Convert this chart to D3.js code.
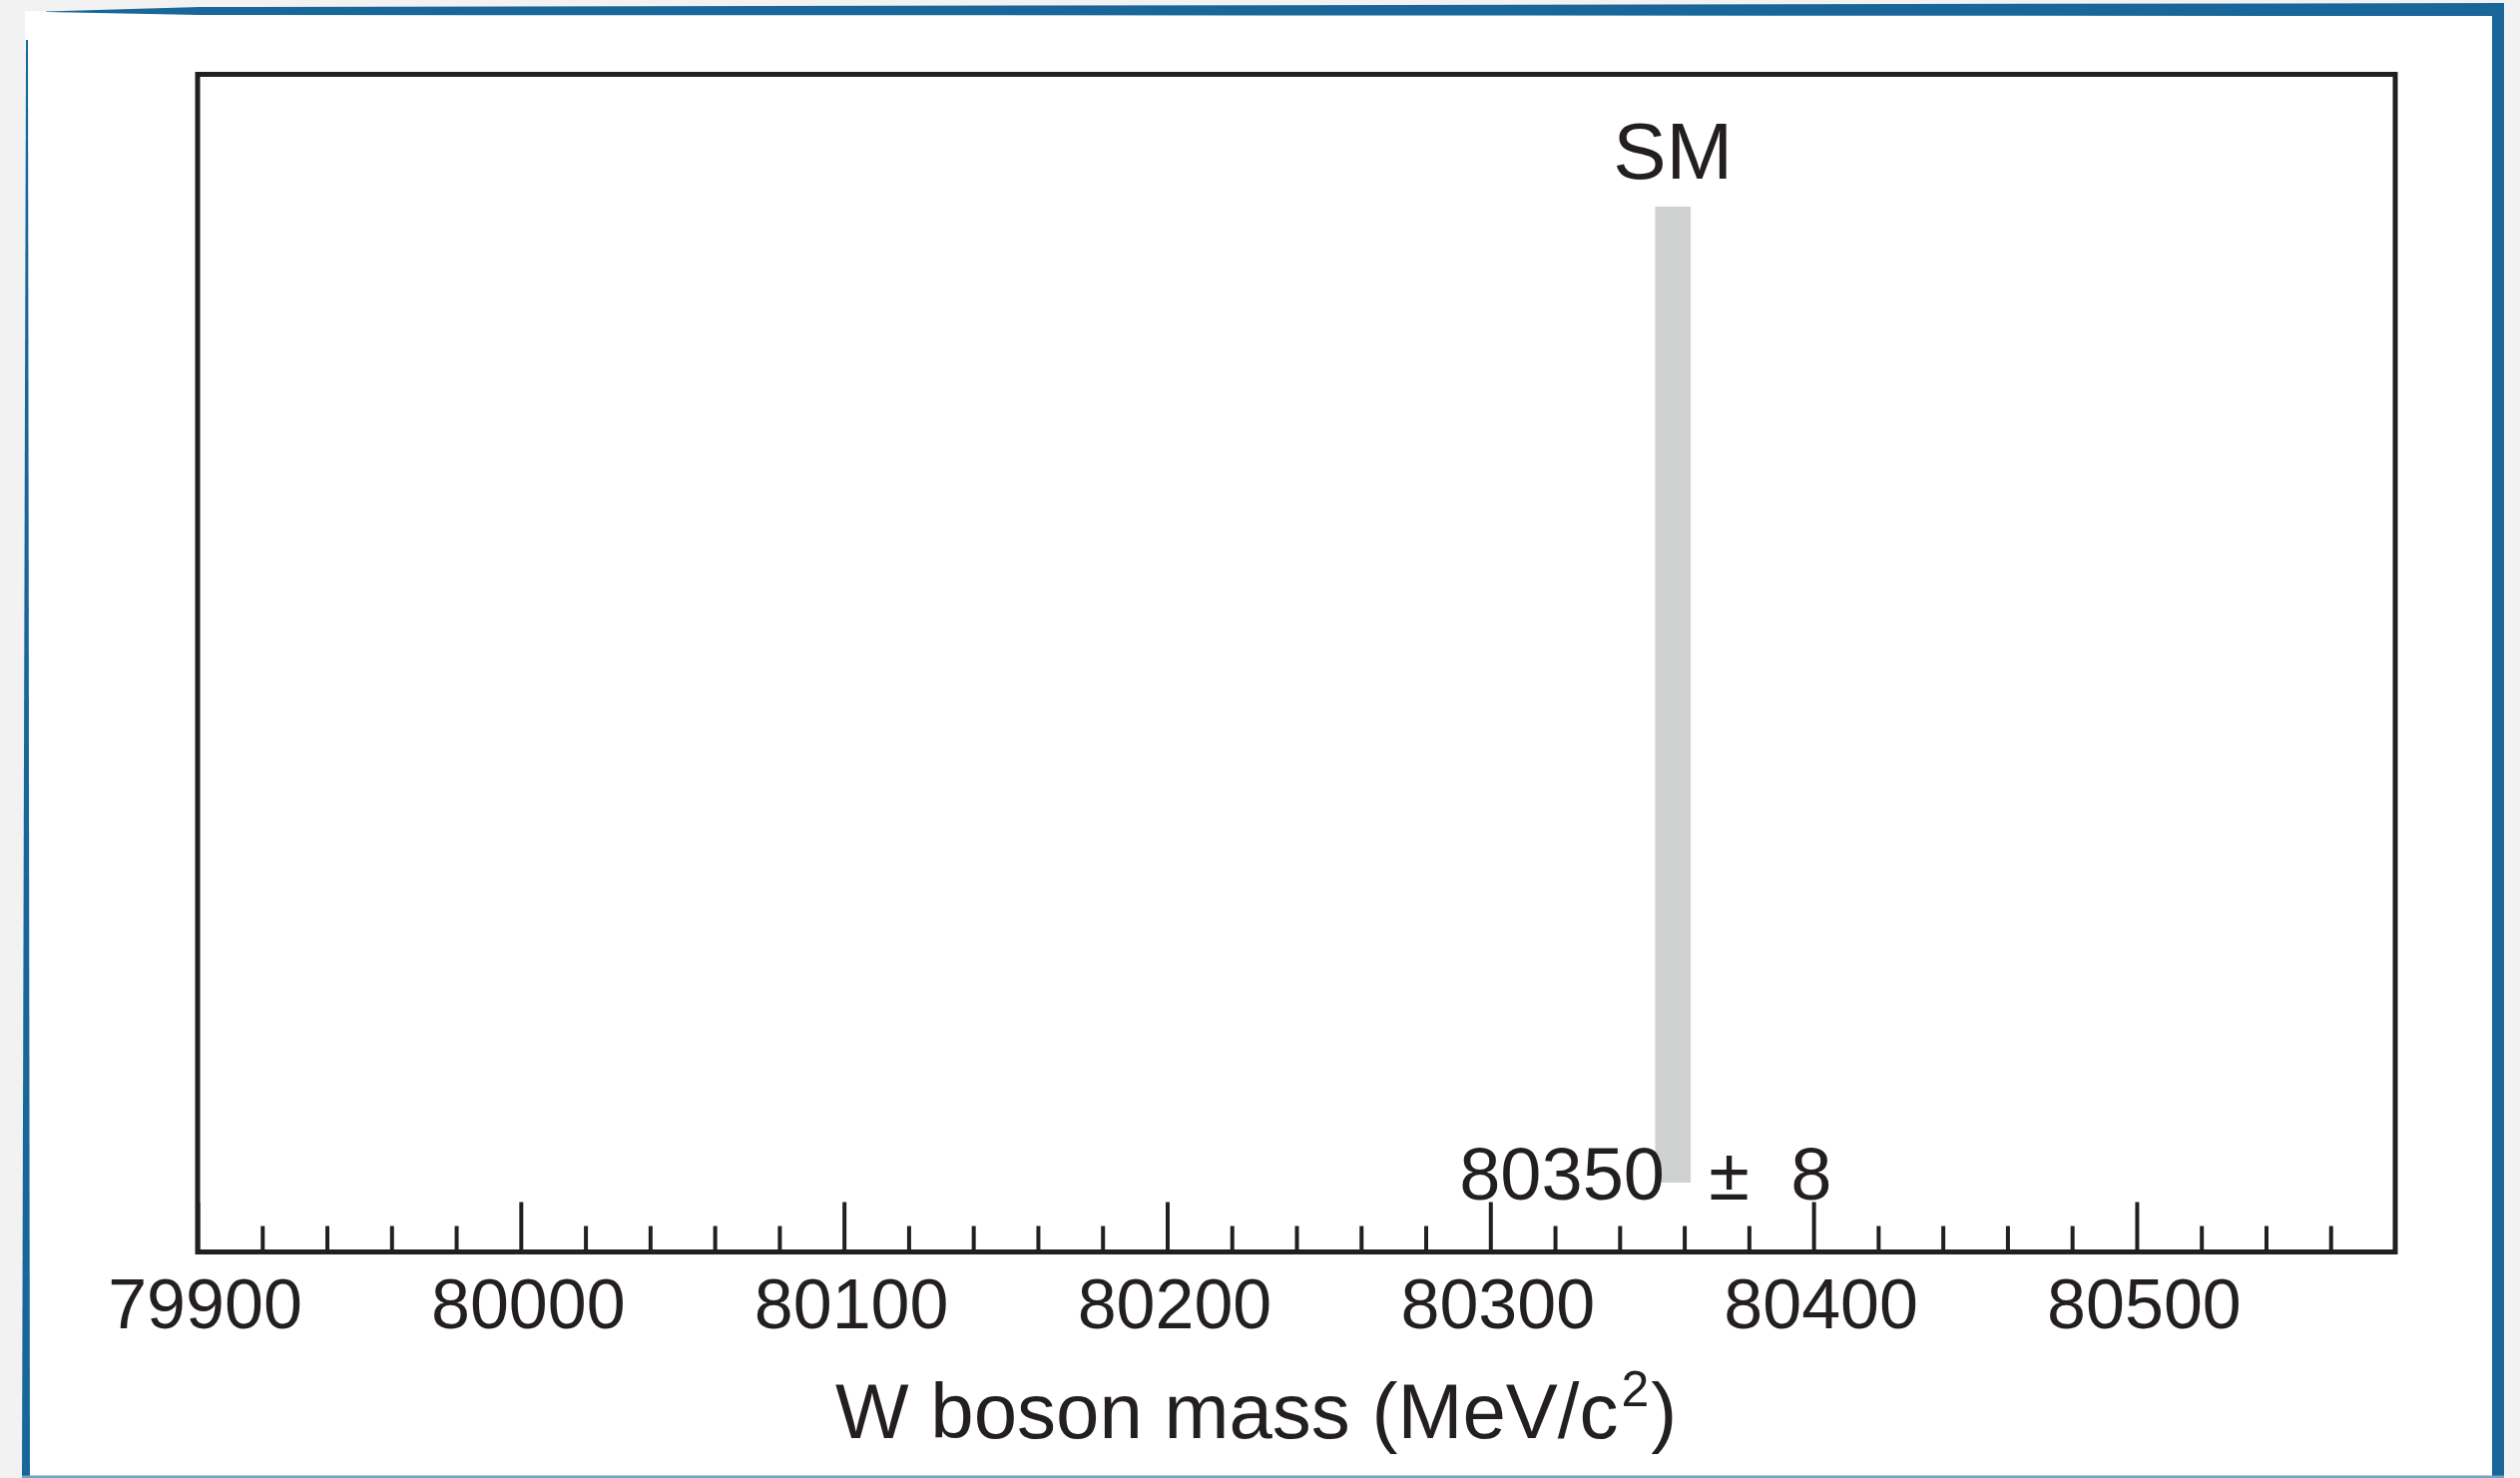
<!DOCTYPE html>
<html>
<head>
<meta charset="utf-8">
<script src="https://cdn.jsdelivr.net/npm/d3@7"></script>
<style>
  html, body { margin: 0; padding: 0; background: #f2f2f2; }
  svg { display: block; }
  text { font-family: "Liberation Sans", Arial, Helvetica, sans-serif; fill: #231f20; }
</style>
</head>
<body>
<div id="vis"></div>
<script>
// data
var xDomain = [79900, 80580];
var majorTicks = [79900, 80000, 80100, 80200, 80300, 80400, 80500];
var minorTicks = d3.range(79920, 80580, 20).filter(function(v){ return v % 100 != 0; });
var smBand = [80351, 80362];
var smValue = 80350;
var smError = 8;
var smName = "SM";
var axisTitle = "W boson mass (MeV/c";

var width = 2525, height = 1481;
// plot frame
var frame = {left: 198, right: 2400, top: 74.5, bottom: 1254.5};
var ink = "#231f20";
var blue = "#19679a";

var svg = d3.select("#vis").append("svg")
    .attr("width", width)
    .attr("height", height);

// page card + blue brush border
svg.append("rect").attr("x", 25).attr("y", 11).attr("width", 2472).attr("height", 1469).attr("fill", "#fff");
svg.append("path").attr("fill", blue)
    .attr("d", "M46,11.5 L200,7 L2509,3 L2509,16 L200,15 L46,12 Z");
svg.append("rect").attr("x", 2497).attr("y", 3).attr("width", 12).attr("height", 1478).attr("fill", blue);
svg.append("path").attr("fill", blue)
    .attr("d", "M26,40 L28,40 L30,1481 L22,1481 Z");
svg.append("rect").attr("x", 22).attr("y", 1478.5).attr("width", 2487).attr("height", 2.5).attr("fill", "#6fa3c8");

var x_scale = d3.scaleLinear().domain(xDomain).range([frame.left, frame.right]);

// SM band
svg.append("rect")
    .attr("x", x_scale(smBand[0]))
    .attr("width", x_scale(smBand[1]) - x_scale(smBand[0]))
    .attr("y", 207)
    .attr("height", 1185 - 207)
    .attr("fill", "#d0d2d1");

svg.append("text")
    .attr("x", x_scale((smBand[0] + smBand[1]) / 2))
    .attr("y", 179)
    .attr("text-anchor", "middle")
    .style("font-size", "80px")
    .text(smName);

// value label: number, plus-minus and error placed separately
var valLabel = svg.append("text")
    .attr("y", 1202)
    .style("font-size", "74px");
valLabel.append("tspan").attr("x", x_scale(smValue) - 193).text(smValue);
valLabel.append("tspan").attr("x", x_scale(smValue) + 57).text("\u00b1");
valLabel.append("tspan").attr("x", x_scale(smValue) + 139).text(smError);

// minor ticks
var minorAxis = d3.axisBottom(x_scale).tickValues(minorTicks).tickSize(-26).tickFormat("");
var gMinor = svg.append("g").attr("transform", "translate(0," + frame.bottom + ")").call(minorAxis);

// major ticks + labels
var majorAxis = d3.axisBottom(x_scale).tickValues(majorTicks)
    .tickSizeInner(-50).tickSizeOuter(0).tickPadding(27)
    .tickFormat(d3.format("d"));
var gMajor = svg.append("g").attr("transform", "translate(0," + frame.bottom + ")").call(majorAxis);

[gMinor, gMajor].forEach(function(g){
    g.select(".domain").remove();
    g.selectAll(".tick line").attr("stroke", ink).attr("stroke-width", 4);
});
gMajor.selectAll(".tick text")
    .attr("dx", 7)
    .style("font-size", "70px")
    .style("font-family", "Liberation Sans, Arial, sans-serif")
    .attr("fill", ink);

// frame
svg.append("rect")
    .attr("x", frame.left)
    .attr("y", frame.top)
    .attr("width", frame.right - frame.left)
    .attr("height", frame.bottom - frame.top)
    .attr("fill", "none")
    .attr("stroke", ink)
    .attr("stroke-width", 5);

// axis title
var title = svg.append("text")
    .attr("x", 837)
    .attr("y", 1441)
    .attr("text-anchor", "start")
    .style("font-size", "78px");
title.append("tspan").text(axisTitle);
title.append("tspan").attr("dy", -32).attr("dx", 3).style("font-size", "50px").text("2");
title.append("tspan").attr("dy", 32).attr("dx", 2).text(")");
</script>
</body>
</html>
